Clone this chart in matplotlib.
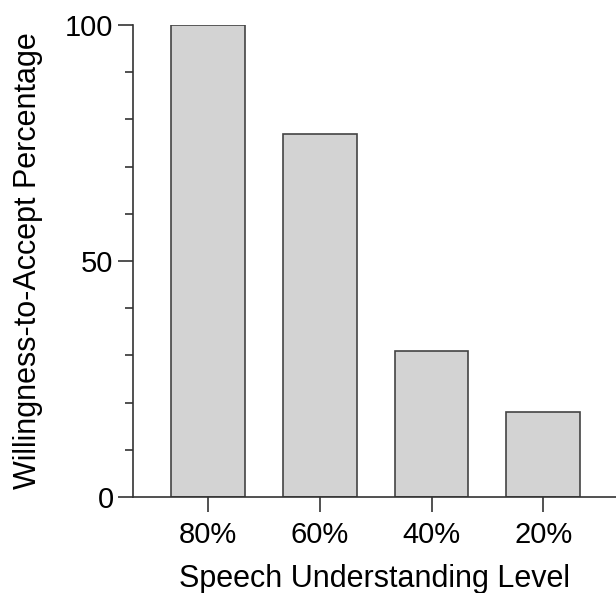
import numpy as np
import matplotlib.pyplot as plt
from matplotlib.ticker import MultipleLocator

plt.rcParams["font.family"] = ["Liberation Sans", "DejaVu Sans"]

levels = ["80%", "60%", "40%", "20%"]
accept_pct = [100, 77, 31, 18]

fig = plt.figure(figsize=(6.16, 5.93), dpi=100)
ax = fig.add_axes([133 / 616, 96 / 593, 1 - 133 / 616, 472 / 593])

x = np.arange(len(levels))
ax.bar(x, accept_pct, width=0.66, color="#d3d3d3", edgecolor="#444444",
       linewidth=1.2, zorder=2)

ax.set_xlim(-0.67, 3.65)
ax.set_ylim(0, 100)
ax.set_xticks(x)
ax.set_xticklabels(levels)
ax.set_yticks([0, 50, 100])
ax.yaxis.set_minor_locator(MultipleLocator(10))

for side in ["top", "right"]:
    ax.spines[side].set_visible(False)
for side in ["left", "bottom"]:
    ax.spines[side].set_color("#333333")
    ax.spines[side].set_linewidth(1.2)

ax.tick_params(axis="both", which="major", length=11, width=1.2,
               color="#333333", labelsize=21)
ax.tick_params(axis="y", which="minor", length=5.5, width=1.2, color="#333333")
ax.tick_params(axis="y", which="major", pad=3)
ax.tick_params(axis="x", which="major", pad=6)

ax.set_xlabel("Speech Understanding Level", fontsize=22, labelpad=11)
ax.set_ylabel("Willingness-to-Accept Percentage", fontsize=22, labelpad=16)

fig.savefig("out.png", dpi=100)
